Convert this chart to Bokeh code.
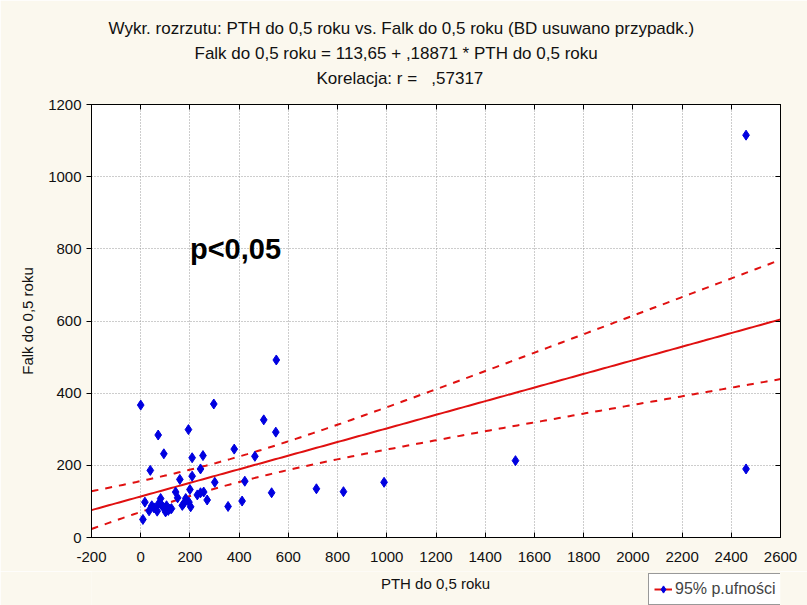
import numpy as np
from bokeh.plotting import figure
from bokeh.layouts import column
from bokeh.models import (FixedTicker, Title, Label, LinearAxis, Legend, LegendItem, Range1d)
from bokeh.embed import file_html
from bokeh.resources import INLINE

# --- data ---
pth = [0, 297, 500, 194, 549, 71, 380, 94, 209, 253, 464, 551, 39, 243, 159, 209,
       301, 423, 142, 200, 243, 256, 270, 183, 196, 169, 203, 355, 412, 17, 81, 81,
       34, 54, 71, 95, 118, 67, 101, 9, 532, 714, 824, 989, 1523, 2460, 2460, 125,
       85, 105, 45, 112, 176, 230, 150]
falk = [367, 370, 326, 299, 292, 284, 245, 232, 221, 227, 225, 492, 186, 190, 161, 170,
        153, 156, 126, 133, 124, 126, 104, 108, 98, 89, 85, 86, 101, 98, 108, 94,
        74, 82, 92, 82, 79, 73, 71, 50, 124, 135, 127, 153, 213, 1115, 190, 80,
        89, 88, 88, 75, 95, 118, 110]

intercept = 113.65
slope = 0.18871
t_crit = 2.006

x_ticks = list(range(-200, 2601, 200))
y_ticks = list(range(0, 1201, 200))

title_lines = ["Wykr. rozrzutu: PTH do 0,5 roku vs. Falk do 0,5 roku (BD usuwano przypadk.)",
               "Falk do 0,5 roku = 113,65 + ,18871 * PTH do 0,5 roku",
               "Korelacja: r =\u00a0\u00a0\u00a0,57317"]
x_label = "PTH do 0,5 roku"
y_label = "Falk do 0,5 roku"
legend_label = "95% p.ufności"
annot = "p<0,05"

# --- regression and confidence band ---
xa = np.array(pth, dtype=float)
ya = np.array(falk, dtype=float)
n = len(xa)
xbar = xa.mean()
sxx = ((xa - xbar) ** 2).sum()
resid = ya - (intercept + slope * xa)
s = np.sqrt((resid ** 2).sum() / (n - 2))
xs = np.linspace(-200, 2600, 200)
yfit = intercept + slope * xs
hw = t_crit * s * np.sqrt(1.0 / n + (xs - xbar) ** 2 / sxx)

BG = "#FBF8EE"
FONT = "Liberation Sans"
RED = "#E01010"
BLUE = "#0000E0"

p = figure(width=807, height=571, output_backend="svg", toolbar_location=None,
           x_range=Range1d(-200, 2600), y_range=Range1d(0, 1200),
           min_border_left=91, min_border_right=27, min_border_top=104, min_border_bottom=34)
p.background_fill_color = "white"
p.border_fill_color = BG
p.outline_line_color = "black"
p.outline_line_width = 1

xax = p.below[0]
yax = p.left[0]

for ax in (xax, yax):
    ax.axis_line_color = "black"
    ax.major_tick_line_color = "black"
    ax.minor_tick_line_color = None
    ax.major_label_text_font = FONT
    ax.major_label_text_font_size = "15px"
    ax.major_label_text_color = "#111111"
    ax.axis_label_text_font = FONT
    ax.axis_label_text_font_size = "15px"
    ax.axis_label_text_font_style = "normal"
    ax.axis_label_text_color = "#111111"

xax.ticker = FixedTicker(ticks=x_ticks)
yax.ticker = FixedTicker(ticks=y_ticks)
xax.major_label_overrides = {t: str(t) for t in x_ticks}
xax.major_tick_in = 5
xax.major_tick_out = 0
yax.major_tick_in = 0
yax.major_tick_out = 5
yax.axis_label = y_label
xax.major_label_standoff = 14
yax.axis_label_standoff = 9

p.xgrid.ticker = FixedTicker(ticks=x_ticks)
p.ygrid.ticker = FixedTicker(ticks=y_ticks)
p.grid.grid_line_color = "#9a9a9a"
p.grid.grid_line_dash = "1 2"
p.grid.grid_line_width = 1

ta = LinearAxis(ticker=FixedTicker(ticks=x_ticks), major_label_text_font_size="0px",
                major_tick_in=5, major_tick_out=0, minor_tick_line_color=None,
                major_label_standoff=0, axis_line_color="black",
                axis_label="\u00a0", axis_label_text_font_size="10px", axis_label_standoff=1)
p.add_layout(ta, "above")
ra = LinearAxis(ticker=FixedTicker(ticks=y_ticks), major_label_text_font_size="0px",
                major_tick_in=5, major_tick_out=0, minor_tick_line_color=None,
                major_label_standoff=0, axis_line_color="black")
p.add_layout(ra, "right")

title_offsets = [17, 103, 225]
for t, off in reversed(list(zip(title_lines, title_offsets))):
    p.add_layout(Title(text=t, align="left", text_font=FONT, text_font_size="17px",
                       text_font_style="normal", text_color="#111111",
                       offset=off, standoff=4), "above")

p.line(xs, yfit, line_color=RED, line_width=2)
p.line(xs, yfit + hw, line_color=RED, line_width=2, line_dash="7 7")
p.line(xs, yfit - hw, line_color=RED, line_width=2, line_dash="7 7")
p.scatter(pth, falk, marker="diamond", size=10, fill_color=BLUE, line_color=BLUE)

p.add_layout(Label(x=200, y=800, text=annot, text_font=FONT, text_font_size="29px",
                   text_font_style="bold", text_color="black", text_baseline="middle"))

# --- strip below: x axis title and legend (frame aligned with the chart frame) ---
q = figure(width=807, height=34, output_backend="svg", toolbar_location=None,
           x_range=Range1d(0, 1), y_range=Range1d(0, 1),
           min_border=0, x_axis_type=None, y_axis_type=None)
q.background_fill_color = BG
q.border_fill_color = BG
q.outline_line_color = None
q.grid.visible = False
q.add_layout(Label(x=344, y=22, x_units="screen", y_units="screen", text=x_label,
                   text_font=FONT, text_font_size="15px", text_color="#111111",
                   text_align="center", text_baseline="middle"))
# legend renderers reuse the chart data; it falls outside this strip's ranges
lr = q.line(xs, yfit, line_color=RED, line_width=2)
sr = q.scatter(pth, falk, marker="diamond", size=9, fill_color=BLUE, line_color=BLUE)
leg = Legend(items=[LegendItem(label=legend_label, renderers=[lr, sr])],
             location=(557, 0), label_text_font=FONT, label_text_font_size="16px",
             border_line_color="#333333", border_line_width=1,
             background_fill_color="white", background_fill_alpha=1,
             glyph_width=18, glyph_height=20, padding=5, spacing=0, margin=0,
             label_standoff=3)
q.add_layout(leg, "center")

open("out.html", "w").write(file_html(column(p, q, spacing=0), INLINE))
